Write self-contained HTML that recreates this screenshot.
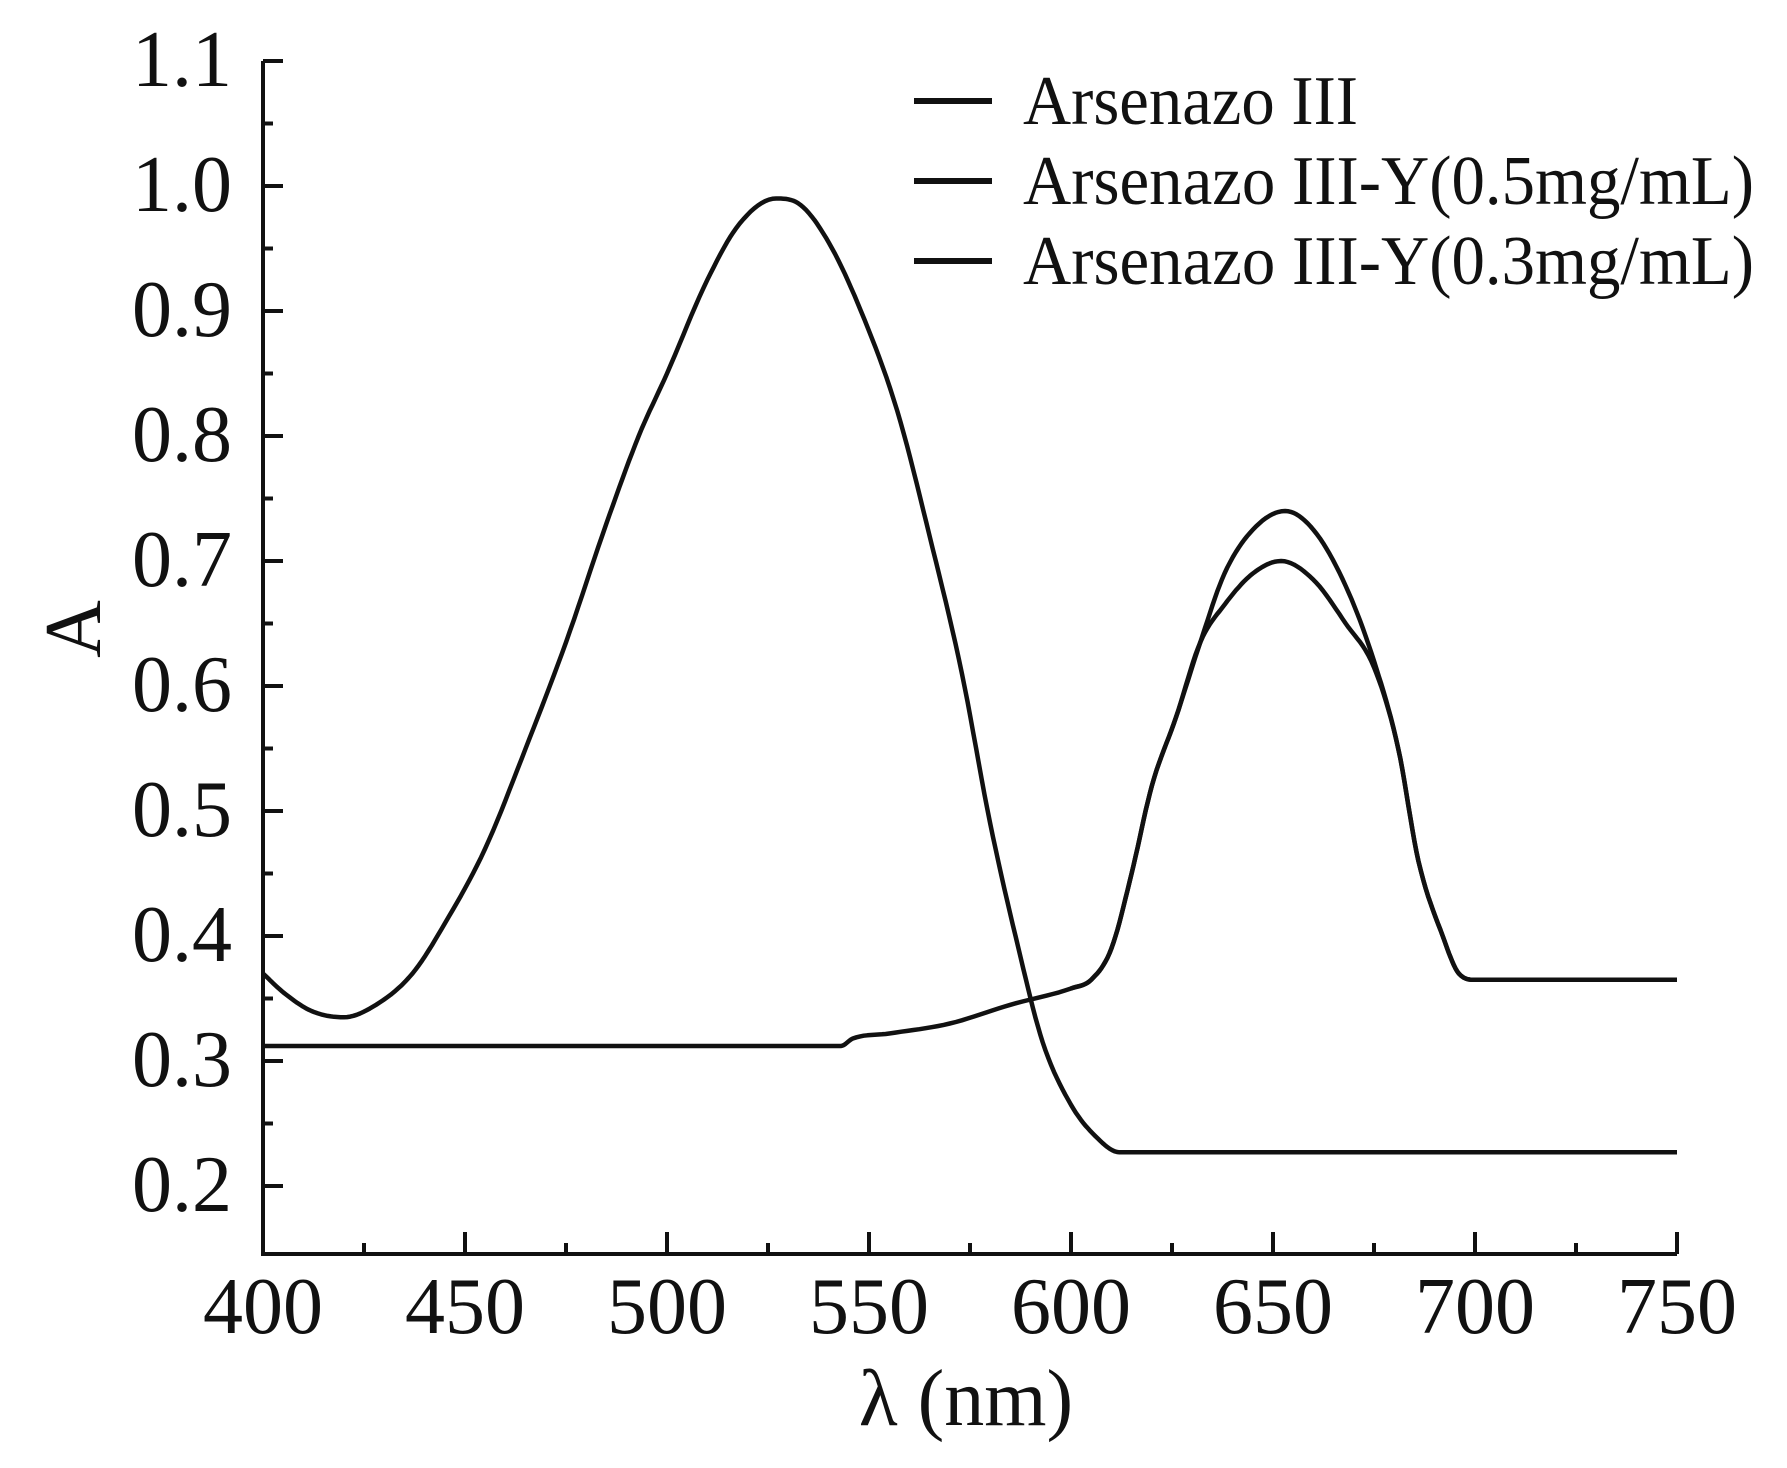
<!DOCTYPE html>
<html><head><meta charset="utf-8"><style>
html,body{margin:0;padding:0;background:#fff;}
svg{display:block;}
text{font-family:"Liberation Serif",serif;fill:#111;}
</style></head><body>
<svg id="s" width="1787" height="1468" viewBox="0 0 1787 1468" xmlns="http://www.w3.org/2000/svg">
<g id="ax" stroke="#111" stroke-width="4" fill="none"></g>
<g id="lines" stroke="#111" stroke-width="4.5" fill="none" stroke-linejoin="round"></g>
<g font-size="80" text-anchor="end" id="yl"></g>
<g font-size="80" text-anchor="middle" id="xl"></g>
<text x="966" y="1425" font-size="80" text-anchor="middle">λ (nm)</text>
<text transform="translate(100,629) rotate(-90)" font-size="80" text-anchor="middle">A</text>
<g stroke="#111" stroke-width="6">
<line x1="914" y1="101" x2="992" y2="101"/>
<line x1="914" y1="181" x2="992" y2="181"/>
<line x1="914" y1="261" x2="992" y2="261"/>
</g>
<g font-size="70">
<text x="1023" y="124" textLength="335" lengthAdjust="spacingAndGlyphs">Arsenazo III</text>
<text x="1023" y="204" textLength="731" lengthAdjust="spacingAndGlyphs">Arsenazo III-Y(0.5mg/mL)</text>
<text x="1023" y="284" textLength="731" lengthAdjust="spacingAndGlyphs">Arsenazo III-Y(0.3mg/mL)</text>
</g>
</svg>
<script>
var NS="http://www.w3.org/2000/svg";
function X(w){return 263+(w-400)*4.04;}
function Y(v){return 1186-(v-0.2)*1250;}
function el(p,t,a,txt){var e=document.createElementNS(NS,t);for(var k in a)e.setAttribute(k,a[k]);if(txt)e.textContent=txt;document.getElementById(p).appendChild(e);}
el("ax","path",{d:"M263 61 L263 1254 L1677 1254"});
for(var i=0;i<=18;i++){var v=0.2+i*0.05,y=Y(v);if(y<58)break;var L=(i%2==0)?20:10;el("ax","line",{x1:263,y1:y,x2:263+L,y2:y});}
el("ax","line",{x1:263,y1:61,x2:283,y2:61});
for(var w=400;w<=750;w+=25){var L=(w%50==0)?22:11;el("ax","line",{x1:X(w),y1:1254,x2:X(w),y2:1254-L});}
for(var i=2;i<=11;i++){el("yl","text",{x:232,y:Y(i/10)+25},(i/10).toFixed(1));}
for(var w=400;w<=750;w+=50){el("xl","text",{x:X(w),y:1333},""+w);}
function path(pts){
 var n=pts.length,xs=pts.map(function(p){return p[0]}),ys=pts.map(function(p){return p[1]});
 var d=[],m=[];
 for(var i=0;i<n-1;i++)d.push((ys[i+1]-ys[i])/(xs[i+1]-xs[i]));
 m[0]=d[0];m[n-1]=d[n-2];
 for(var i=1;i<n-1;i++){m[i]=(d[i-1]*d[i]<=0)?0:(d[i-1]+d[i])/2;}
 for(var i=0;i<n-1;i++){if(d[i]==0){m[i]=0;m[i+1]=0;}else{var a=m[i]/d[i],b=m[i+1]/d[i],s=a*a+b*b;if(s>9){var t=3/Math.sqrt(s);m[i]=t*a*d[i];m[i+1]=t*b*d[i];}}}
 var s="";
 for(var i=0;i<n-1;i++){
  var h=xs[i+1]-xs[i];
  for(var k=0;k<=10;k++){
   var t=k/10,t2=t*t,t3=t2*t;
   var yv=(2*t3-3*t2+1)*ys[i]+(t3-2*t2+t)*h*m[i]+(-2*t3+3*t2)*ys[i+1]+(t3-t2)*h*m[i+1];
   var xv=xs[i]+t*h;
   s+=(s?"L":"M")+X(xv).toFixed(1)+" "+Y(yv).toFixed(1);
  }
 }
 el("lines","path",{d:s});
}
path([[400,.37],[405,.355],[412,.34],[420,.335],[428,.345],[437,.37],[445,.41],[455,.47],[465,.55],[475,.635],[485,.73],[493,.80],[500,.85],[510,.925],[518,.97],[527,.99],[533,.985],[540,.955],[548,.90],[557,.82],[565,.72],[573,.61],[580,.49],[587,.39],[593,.315],[600,.265],[606,.24],[612,.227],[620,.227],[750,.227]]);
path([[400,.312],[543,.312],[546,.318],[555,.322],[570,.33],[585,.345],[600,.358],[605,.365],[610,.39],[615,.45],[620,.52],[626,.575],[632,.635],[638,.69],[645,.725],[653,.74],[660,.725],[668,.68],[675,.62],[681,.55],[686,.46],[692,.40],[696,.37],[700,.365],[710,.365],[750,.365]]);
path([[600,.358],[605,.365],[610,.39],[615,.45],[620,.52],[626,.575],[632,.635],[638,.665],[645,.69],[652,.70],[660,.685],[668,.65],[675,.615],[681,.55],[686,.46],[692,.40],[696,.37],[700,.365],[710,.365]]);
</script>
</body></html>
